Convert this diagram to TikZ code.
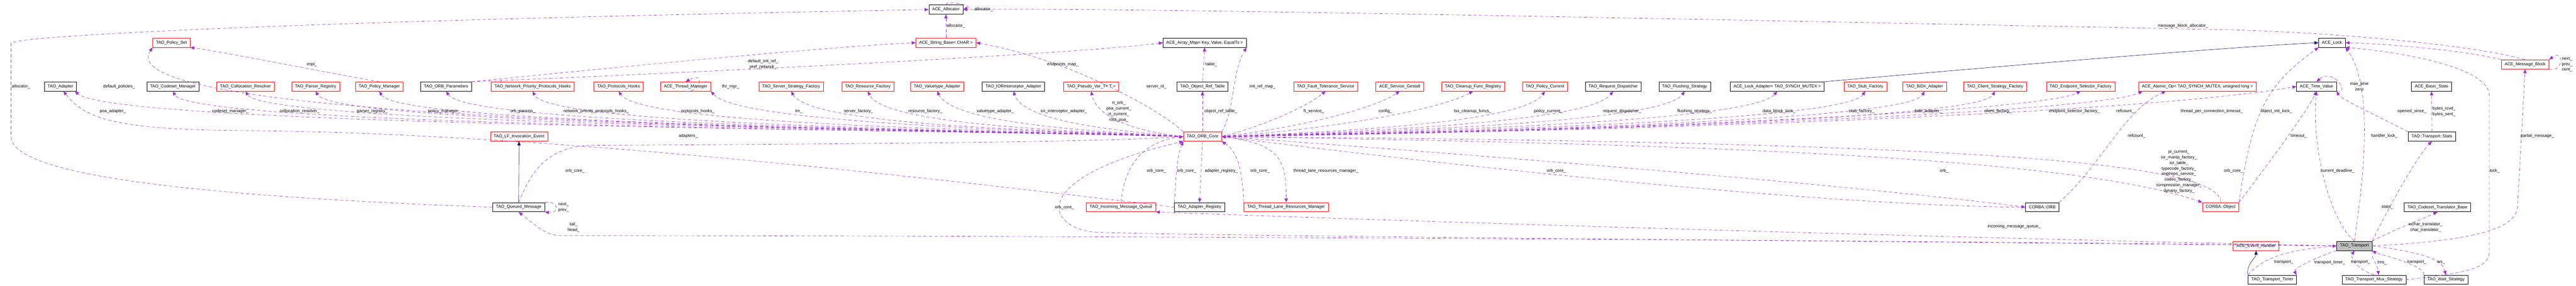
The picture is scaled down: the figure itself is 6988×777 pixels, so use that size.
\documentclass[tikz,border=0pt]{standalone}
\usepackage{fontspec}
\setmainfont{Liberation Sans}
\usetikzlibrary{arrows.meta}
\definecolor{edgec}{HTML}{9A32CD}
\definecolor{inhc}{HTML}{191970}
\definecolor{redc}{HTML}{FF0000}
\tikzset{
  cls/.style={draw=black, line width=0.9pt, inner xsep=9pt, inner ysep=0pt, minimum height=25pt, font=\fontsize{11.5}{13}\selectfont},
  rcls/.style={cls, draw=redc},
  lbl/.style={inner sep=0pt, align=center, font=\fontsize{11.5}{15}\selectfont},
  e/.style={draw=edgec, line width=0.9pt, dash pattern=on 9pt off 6pt, -{Triangle[length=11pt,width=9pt,fill=edgec]}},
  inh/.style={draw=inhc, line width=0.9pt, -{Triangle[length=11pt,width=9pt,fill=inhc]}}
}
\begin{document}
\begin{tikzpicture}[x=1pt,y=-1pt]
\useasboundingbox (0,0) rectangle (6988,777);
% ---------- nodes ----------
\node[cls] (alloc) at (2566,26) {ACE\_Allocator};
\node[rcls] (strb) at (2566,116) {ACE\_String\_Base< CHAR >};
\node[cls] (am) at (3268,116) {ACE\_Array\_Map< Key, Value, EqualTo >};
\node[cls] (lock) at (6326,116) {ACE\_Lock};
\node[rcls] (polset) at (465,116) {TAO\_Policy\_Set};
\node[rcls] (mb) at (6850,175) {ACE\_Message\_Block};
% top row
\node[cls] (adapter) at (164,235) {TAO\_Adapter};
\node[cls] (codeset) at (469,235) {TAO\_Codeset\_Manager};
\node[rcls] (coll) at (666,235) {TAO\_Collocation\_Resolver};
\node[rcls] (parser) at (856,235) {TAO\_Parser\_Registry};
\node[rcls] (polmgr) at (1029,235) {TAO\_Policy\_Manager};
\node[cls] (orbparams) at (1210,235) {TAO\_ORB\_Parameters};
\node[rcls] (netprio) at (1445,235) {TAO\_Network\_Priority\_Protocols\_Hooks};
\node[rcls] (prothooks) at (1678,235) {TAO\_Protocols\_Hooks};
\node[rcls] (thrmgr) at (1860,235) {ACE\_Thread\_Manager};
\node[rcls] (ssf) at (2146,235) {TAO\_Server\_Strategy\_Factory};
\node[rcls] (resf) at (2354,235) {TAO\_Resource\_Factory};
\node[rcls] (vta) at (2542,235) {TAO\_Valuetype\_Adapter};
\node[cls] (iora) at (2749,235) {TAO\_IORInterceptor\_Adapter};
\node[rcls] (pvt) at (2960,235) {TAO\_Pseudo\_Var\_T< T >};
\node[cls] (ort) at (3262,235) {TAO\_Object\_Ref\_Table};
\node[rcls] (fts) at (3596,235) {TAO\_Fault\_Tolerance\_Service};
\node[rcls] (sg) at (3797,235) {ACE\_Service\_Gestalt};
\node[rcls] (cfr) at (3996,235) {TAO\_Cleanup\_Func\_Registry};
\node[rcls] (pc) at (4191,235) {TAO\_Policy\_Current};
\node[cls] (rd) at (4376,235) {TAO\_Request\_Dispatcher};
\node[cls] (fs) at (4570,235) {TAO\_Flushing\_Strategy};
\node[cls] (la) at (4821,235) {ACE\_Lock\_Adapter< TAO\_SYNCH\_MUTEX >};
\node[rcls] (sf) at (5060,235) {TAO\_Stub\_Factory};
\node[rcls] (bda) at (5221,235) {TAO\_BiDir\_Adapter};
\node[rcls] (csf) at (5412,235) {TAO\_Client\_Strategy\_Factory};
\node[rcls] (esf) at (5644,235) {TAO\_Endpoint\_Selector\_Factory};
\node[rcls] (ao) at (5961,235) {ACE\_Atomic\_Op< TAO\_SYNCH\_MUTEX, unsigned long >};
\node[cls] (tv) at (6284,235) {ACE\_Time\_Value};
\node[cls] (bs) at (6596,235) {ACE\_Basic\_Stats};
% middle row
\node[rcls] (lfe) at (1408,371) {TAO\_LF\_Invocation\_Event};
\node[rcls] (oc) at (3262,371) {TAO\_ORB\_Core};
\node[cls] (stats) at (6597,371) {TAO::Transport::Stats};
% lower row
\node[cls] (qm) at (1407,563) {TAO\_Queued\_Message};
\node[rcls] (imq) at (3041,563) {TAO\_Incoming\_Message\_Queue};
\node[cls] (adreg) at (3254,563) {TAO\_Adapter\_Registry};
\node[rcls] (tlrm) at (3489,563) {TAO\_Thread\_Lane\_Resources\_Manager};
\node[cls] (orb) at (5540,563) {CORBA::ORB};
\node[rcls] (obj) at (6024,563) {CORBA::Object};
\node[cls] (ctb) at (6612,563) {TAO\_Codeset\_Translator\_Base};
\node[rcls] (eh) at (6120,668) {ACE\_Event\_Handler};
\node[cls, fill=black!25] (tr) at (6387,668) {TAO\_Transport};
\node[cls] (tt) at (6164,760) {TAO\_Transport\_Timer};
\node[cls] (tms) at (6440,760) {TAO\_Transport\_Mux\_Strategy};
\node[cls] (ws) at (6635,760) {TAO\_Wait\_Strategy};

% ---------- ORB_Core -> top row (left side) ----------
\draw[e] (oc.west) .. controls (2600,352) and (320,345) .. (adapter.south -| 203,0);
\draw[e] (oc.west) .. controls (2600,350) and (270,345) .. (polset.south west) ;
\draw[e] (oc.west) .. controls (2600,352) and (520,345) .. (codeset.south);
\draw[e] (oc.west) .. controls (2600,352) and (720,340) .. (coll.south);
\draw[e] (oc.west) .. controls (2600,352) and (910,340) .. (parser.south);
\draw[e] (oc.west) .. controls (2600,352) and (1080,340) .. (polmgr.south);
\draw[e] (oc.west) .. controls (2600,352) and (1270,340) .. (orbparams.south);
\draw[e] (oc.west) .. controls (2600,352) and (1490,340) .. (netprio.south);
\draw[e] (oc.west) .. controls (2700,352) and (1740,340) .. (prothooks.south);
\draw[e] (oc.west) .. controls (2700,352) and (2000,330) .. (thrmgr.south east);
\draw[e] (oc.west) .. controls (2800,352) and (2200,340) .. (ssf.south);
\draw[e] (oc.west) .. controls (2900,355) and (2400,340) .. (resf.south);
\draw[e] (oc.west) .. controls (3000,358) and (2590,340) .. (vta.south);
\draw[e] (oc.west) .. controls (3100,360) and (2780,340) .. (iora.south);
\draw[e] (oc.west) .. controls (3150,365) and (2980,340) .. (pvt.south);
% ---------- ORB_Core -> top row (right side) ----------
\draw[e] (oc.north) -- (ort.south);
\draw[e] (oc.east) .. controls (3400,350) and (3530,300) .. (fts.south);
\draw[e] (oc.east) .. controls (3500,350) and (3720,300) .. (sg.south);
\draw[e] (oc.east) .. controls (3600,352) and (3900,300) .. (cfr.south);
\draw[e] (oc.east) .. controls (3800,352) and (4140,320) .. (pc.south);
\draw[e] (oc.east) .. controls (3900,352) and (4320,320) .. (rd.south);
\draw[e] (oc.east) .. controls (4000,352) and (4520,320) .. (fs.south);
\draw[e] (oc.east) .. controls (4100,352) and (4760,320) .. (la.south);
\draw[e] (oc.east) .. controls (4200,352) and (5010,320) .. (sf.south);
\draw[e] (oc.east) .. controls (4300,352) and (5180,320) .. (bda.south);
\draw[e] (oc.east) .. controls (4400,352) and (5370,320) .. (csf.south);
\draw[e] (oc.east) .. controls (4500,352) and (5540,300) .. (esf.south);
\draw[e] (oc.east) .. controls (4600,352) and (5700,300) .. (ao.south -| 5812,0);
\draw[e] (oc.east) .. controls (4700,352) and (5850,300) .. (tv.west);
% ---------- other upper edges ----------
\draw[e] (oc.north west) .. controls (3150,300) and (2900,160) .. (strb.east);
\draw[e] (orbparams.north east) .. controls (1600,190) and (2200,130) .. (strb.west);
\draw[e] (orbparams.north east) .. controls (1700,205) and (2900,150) .. (am.west);
\draw[e] (strb.north) -- (alloc.south);
\draw[e] (alloc.north) .. controls +(0,-15) and +(30,-10) .. (alloc.east);
\draw[e] (ort.north) -- (am.south);
\draw[e] (oc.north east) .. controls (3350,300) and (3340,200) .. (am.south east);
\draw[e] (polmgr.north) .. controls (900,200) and (600,140) .. (polset.south east);
\draw[e] (thrmgr.south) .. controls +(40,5) and +(55,-30) .. (thrmgr.north);
% ---------- lower left ----------
\draw[inh] (qm.north) -- (lfe.south);
\draw[e] (qm.north east) .. controls +(40,-5) and +(40,5) .. (qm.south east);
\draw[e] (qm.north) .. controls (1440,470) and (1480,400) .. (1600,395) .. controls (2500,390) and (3000,385) .. (oc.west);
\draw[e] (qm.west) .. controls (300,525) and (30,450) .. (30,370) -- (30,117) .. controls (60,95) and (900,55) .. (alloc.west);
\draw[e] (adreg.west) .. controls (2500,480) and (1500,365) .. (700,355) .. controls (300,355) and (230,320) .. (adapter.south -| 172,0);
\draw[e] (tr.west) .. controls (5000,650) and (2500,640) .. (1520,640) .. controls (1480,640) and (1450,610) .. (qm.south);
\draw[e] (tr.west) .. controls (5000,640) and (3500,590) .. (imq.south east);
\draw[e] (tr.west) .. controls (5000,655) and (3100,640) .. (2960,630) .. controls (2830,610) and (2800,480) .. (oc.south west);
% ---------- ORB_Core lower ----------
\draw[e] (oc.south) -- (adreg.north);
\draw[e] (adreg.north west) .. controls (3190,500) and (3190,430) .. (oc.south west);
\draw[e] (imq.north) .. controls (3050,450) and (3100,385) .. (oc.west);
\draw[e] (tlrm.north west) .. controls (3370,500) and (3370,420) .. (oc.south east);
\draw[e] (oc.east) .. controls (3470,390) and (3490,430) .. (tlrm.north);
\draw[e] (oc.east) .. controls (4000,420) and (5000,500) .. (orb.west);
\draw[e] (orb.west) .. controls (5000,560) and (4100,470) .. (oc.east);
\draw[e] (orb.north east) .. controls (5700,450) and (5760,300) .. (ao.south -| 5875,0);
\draw[e] (oc.east) .. controls (4500,390) and (5600,420) .. (obj.north west);
\draw[e] (obj.north) .. controls (6030,420) and (5000,385) .. (oc.east);
\draw[e] (obj.north east) .. controls (6110,300) and (6150,230) .. (lock.south west);
\draw[e] (obj.north east) .. controls (6150,450) and (6260,300) .. (tv.south);
% ---------- right part ----------
\draw[inh] (la.north east) .. controls (5200,200) and (6000,130) .. (lock.west);
\draw[e] (tv.south east) .. controls +(40,10) and +(45,-40) .. (tv.north);
\draw[e] (stats.north west) .. controls (6500,340) and (6350,270) .. (tv.south east);
\draw[e] (stats.north) -- (bs.south);
\draw[e] (tr.north east) .. controls (6470,580) and (6560,420) .. (stats.south);
\draw[e] (tr.north east) .. controls (6480,630) and (6560,600) .. (ctb.south);
\draw[e] (tr.north) .. controls (6320,600) and (6270,400) .. (tv.south);
\draw[e] (tr.north) .. controls (6400,550) and (6450,250) .. (lock.south east);
\draw[e] (tms.east) .. controls (6700,740) and (6753,730) .. (6753,680) -- (6753,260) .. controls (6753,180) and (6500,140) .. (lock.south east);
\draw[e] (mb.north west) .. controls (6700,140) and (6500,120) .. (lock.east);
\draw[e] (mb.north) .. controls (6700,120) and (6300,85) .. (6000,80) .. controls (4500,50) and (3000,20) .. (alloc.east);
\draw[e] (tr.east) .. controls (6800,650) and (6830,600) .. (6830,550) -- (mb.south);
\draw[e] (mb.south east) .. controls +(40,10) and +(40,-30) .. (mb.north east);
\draw[inh] (tt.north west) .. controls +(-5,-30) and +(0,20) .. (eh.south);
\draw[e] (tt.north west) .. controls (6140,700) and (6200,680) .. (tr.west);
\draw[e] (tr.south west) .. controls (6280,700) and (6220,730) .. (tt.north east);
\draw[e] (tms.north) .. controls (6390,730) and (6375,700) .. (tr.south);
\draw[e] (tr.south east) .. controls (6430,700) and (6450,720) .. (tms.north -| 6452,0);
\draw[e] (ws.north west) .. controls (6580,720) and (6450,690) .. (tr.south east);
\draw[e] (tr.east) .. controls (6600,690) and (6625,710) .. (ws.north);

% ---------- labels ----------
\node[lbl] (l1) at (57,235) {allocator\_};
\node[lbl] (l2) at (306,303) {poa\_adapter\_};
\node[lbl] (l3) at (323,235) {default\_policies\_};
\node[lbl] (l4) at (625,303) {codeset\_manager\_};
\node[lbl] (l5) at (813,303) {collocation\_resolver\_};
\node[lbl] (l6) at (1010,303) {parser\_registry\_};
\node[lbl] (l7) at (1205,303) {policy\_manager\_};
\node[lbl] (l8) at (1418,303) {orb\_params\_};
\node[lbl] (l9) at (1617,303) {network\_priority\_protocols\_hooks\_};
\node[lbl] (l10) at (1893,303) {protocols\_hooks\_};
\node[lbl] (l11) at (2167,303) {tm\_};
\node[lbl] (l12) at (2329,303) {server\_factory\_};
\node[lbl] (l13) at (2510,303) {resource\_factory\_};
\node[lbl] (l14) at (2700,303) {valuetype\_adapter\_};
\node[lbl] (l15) at (2886,303) {ior\_interceptor\_adapter\_};
\node[lbl] (l16) at (3035,303) {rt\_orb\_\\poa\_current\_\\rt\_current\_\\root\_poa\_};
\node[lbl] (l17) at (846,175) {impl\_};
\node[lbl] (l18) at (1982,235) {thr\_mgr\_};
\node[lbl] (l19) at (2070,175) {default\_init\_ref\_\\pref\_network\_};
\node[lbl] (l20) at (2593,71) {allocator\_};
\node[lbl] (l21) at (2668,25) {allocator\_};
\node[lbl] (l22) at (2883,175) {endpoints\_map\_};
\node[lbl] (l23) at (3137,235) {server\_id\_};
\node[lbl] (l24) at (3286,175) {table\_};
\node[lbl] (l25) at (3425,235) {init\_ref\_map\_};
\node[lbl] (l26) at (3312,303) {object\_ref\_table\_};
\node[lbl] (l27) at (3564,303) {ft\_service\_};
\node[lbl] (l28) at (3758,303) {config\_};
\node[lbl] (l29) at (3995,303) {tss\_cleanup\_funcs\_};
\node[lbl] (l30) at (4200,303) {policy\_current\_};
\node[lbl] (l31) at (4400,303) {request\_dispatcher\_};
\node[lbl] (l32) at (4597,303) {flushing\_strategy\_};
\node[lbl] (l33) at (4826,303) {data\_block\_lock\_};
\node[lbl] (l34) at (5050,303) {stub\_factory\_};
\node[lbl] (l35) at (5231,303) {bidir\_adapter\_};
\node[lbl] (l36) at (5420,303) {client\_factory\_};
\node[lbl] (l37) at (5627,303) {endpoint\_selector\_factory\_};
\node[lbl] (l38) at (5765,303) {refcount\_};
\node[lbl] (l39) at (6000,303) {thread\_per\_connection\_timeout\_};
\node[lbl] (l40) at (6175,303) {object\_init\_lock\_};
\node[lbl] (l41) at (1867,369) {adapters\_};
\node[lbl] (l42) at (5796,369) {refcount\_};
\node[lbl] (l43) at (6236,369) {timeout\_};
\node[lbl] (l44) at (6468,369) {handler\_lock\_};
\node[lbl] (l45) at (6883,369) {partial\_message\_};
\node[lbl] (l46) at (1560,464) {orb\_core\_};
\node[lbl] (l47) at (3137,464) {orb\_core\_};
\node[lbl] (l48) at (3219,464) {orb\_core\_};
\node[lbl] (l49) at (3313,464) {adapter\_registry\_};
\node[lbl] (l50) at (3418,464) {orb\_core\_};
\node[lbl] (l51) at (3597,464) {thread\_lane\_resources\_manager\_};
\node[lbl] (l52) at (4222,464) {orb\_core\_};
\node[lbl] (l53) at (5274,464) {orb\_};
\node[lbl] (l54) at (5911,466) {pi\_current\_\\ior\_manip\_factory\_\\ior\_table\_\\typecode\_factory\_\\implrepo\_service\_\\codec\_factory\_\\compression\_manager\_\\dynany\_factory\_};
\node[lbl] (l55) at (6059,464) {orb\_core\_};
\node[lbl] (l56) at (6341,464) {current\_deadline\_};
\node[lbl] (l57) at (6767,464) {lock\_};
\node[lbl] (l58) at (1529,563) {next\_\\prev\_};
\node[lbl] (l59) at (2888,563) {orb\_core\_};
\node[lbl] (l60) at (6476,563) {stats\_};
\node[lbl] (l61) at (1556,618) {tail\_\\head\_};
\node[lbl] (l62) at (5464,616) {incoming\_message\_queue\_};
\node[lbl] (l63) at (6580,617) {wchar\_translator\_\\char\_translator\_};
\node[lbl] (l64) at (5922,71) {message\_block\_allocator\_};
\node[lbl] (l65) at (6400,235) {max\_time\\zero};
\node[lbl] (l66) at (6543,303) {opened\_since\_};
\node[lbl] (l67) at (6630,303) {bytes\_rcvd\_\\bytes\_sent\_};
\node[lbl] (l68) at (6964,175) {next\_\\prev\_\\cont\_};
\node[lbl] (l69) at (6195,713) {transport\_};
\node[lbl] (l70) at (6320,713) {transport\_timer\_};
\node[lbl] (l71) at (6404,713) {transport\_};
\node[lbl] (l72) at (6462,713) {tms\_};
\node[lbl] (l73) at (6556,713) {transport\_};
\node[lbl] (l74) at (6622,713) {ws\_};
\end{tikzpicture}
\end{document}
